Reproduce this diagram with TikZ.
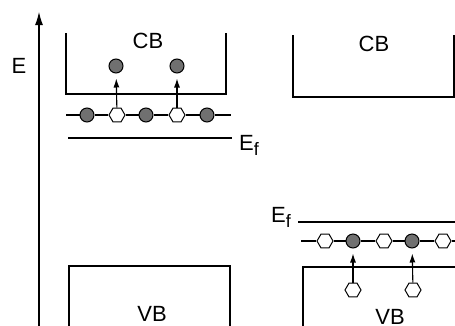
\documentclass[tikz,border=0pt]{standalone}
\usepackage{fontspec}
\setmainfont{Liberation Sans}
\usetikzlibrary{shapes.geometric,arrows.meta}
\definecolor{dotgray}{RGB}{112,112,112}
\newcommand{\efsub}{E\raisebox{-5pt}{\fontsize{18}{18}\selectfont f}}
\begin{document}
\begin{tikzpicture}[x=1pt,y=-1pt,
  band/.style={line width=1.2pt},
  level/.style={line width=1.1pt},
  dot/.style={circle,draw,fill=dotgray,line width=1pt,minimum size=14pt,inner sep=0pt},
  hole/.style={regular polygon,regular polygon sides=6,draw,fill=white,line width=1pt,minimum size=16pt,inner sep=0pt},
  lbl/.style={font=\fontsize{22}{22}\selectfont,inner sep=0pt},
  up/.style={-{Latex[length=9pt,width=6pt]},line width=1.1pt,shorten >=5pt}]
\useasboundingbox (0,0) rectangle (455,325);
% energy axis
\coordinate (ax0) at (39,326);
\coordinate (ax1) at (39,12);
\draw[line width=1.1pt,-{Latex[length=13pt,width=8pt]}] (ax0) -- (ax1);
\node[lbl] (E) at (19,66) {E};
% ---------- left: n-type ----------
\draw[band] (66,33) -- (66,94) -- (226,94) -- (226,33);
\node[lbl] (cbL) at (148,41) {CB};
\node[dot] (c1) at (116,66) {};
\node[dot] (c2) at (177,66) {};
\coordinate (dl) at (66,115);
\coordinate (dr) at (231,115);
\node[dot] (d1) at (87,115) {};
\node[hole] (h1) at (117,115) {};
\node[dot] (d2) at (146,115) {};
\node[hole] (h2) at (177,115) {};
\node[dot] (d3) at (207,115) {};
\draw[level] (dl) -- (d1) -- (h1) -- (d2) -- (h2) -- (d3) -- (dr);
\draw[up] (h1) -- (c1);
\draw[up] (h2) -- (c2);
\coordinate (efl1) at (68,138);
\coordinate (efl2) at (232,138);
\draw[level] (efl1) -- (efl2);
\node[lbl,anchor=base west] (efL) at (239,150) {\efsub};
\draw[band] (69,326) -- (69,266) -- (230,266) -- (230,326);
\node[lbl] (vbL) at (152,314) {VB};
% ---------- right: p-type ----------
\draw[band] (293,35) -- (293,97) -- (454,97) -- (454,35);
\node[lbl] (cbR) at (374,44) {CB};
\coordinate (efr1) at (298,222);
\coordinate (efr2) at (456,222);
\draw[level] (efr1) -- (efr2);
\node[lbl,anchor=base west] (efR) at (271,222) {\efsub};
\coordinate (al) at (301,241);
\coordinate (ar) at (456,241);
\node[hole] (a1) at (325,241) {};
\node[dot] (b1) at (353,241) {};
\node[hole] (a2) at (384,241) {};
\node[dot] (b2) at (412,241) {};
\node[hole] (a3) at (443,241) {};
\draw[level] (al) -- (a1) -- (b1) -- (a2) -- (b2) -- (a3) -- (ar);
\draw[band] (303,326) -- (303,267) -- (456,267);
\node[hole] (v1) at (353,290) {};
\node[hole] (v2) at (413,290) {};
\draw[up] (v1) -- (b1);
\draw[up] (v2) -- (b2);
\node[lbl] (vbR) at (390,317) {VB};
\end{tikzpicture}
\end{document}
